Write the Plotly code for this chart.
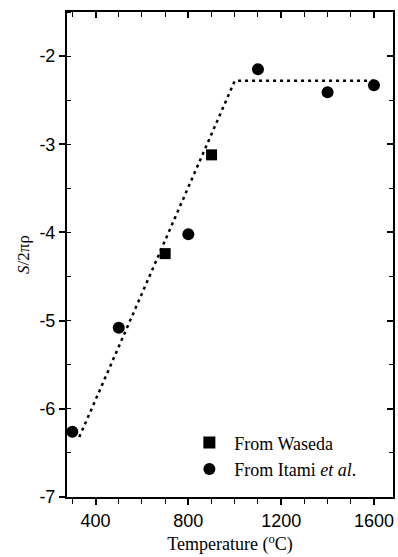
import plotly.graph_objects as go

# Data
waseda_T = [700, 900]
waseda_S = [-4.24, -3.12]
itami_T = [300, 500, 800, 1100, 1400, 1600]
itami_S = [-6.26, -5.08, -4.02, -2.15, -2.41, -2.33]
fit_T = [330, 1000, 1600]
fit_S = [-6.32, -2.28, -2.28]

x_ticks = [400, 800, 1200, 1600]
x_ticktext = ["400", "800", "1200", "1600"]
y_ticks = [-7, -6, -5, -4, -3, -2]
y_ticktext = ["-7", "-6", "-5", "-4", "-3", "-2"]

x_range = [277, 1682]
y_range = [-7, -1.5]

fig = go.Figure()
fig.add_trace(go.Scatter(x=fit_T, y=fit_S, mode="lines",
                         line=dict(color="black", width=2.5, dash="3px,4px"),
                         showlegend=False, hoverinfo="skip"))
fig.add_trace(go.Scatter(x=waseda_T, y=waseda_S, mode="markers", name="From Waseda",
                         marker=dict(symbol="square", size=11, color="black")))
fig.add_trace(go.Scatter(x=itami_T, y=itami_S, mode="markers", name="From Itami <i>et al</i>.",
                         marker=dict(symbol="circle", size=12, color="black")))
# empty trace so the mirrored top/right frame axes are drawn
fig.add_trace(go.Scatter(x=[None], y=[None], xaxis="x2", yaxis="y2", mode="markers",
                         showlegend=False, hoverinfo="skip"))

tickfont = dict(family="Liberation Sans, Arial", size=18, color="black")
serif = dict(family="Liberation Serif, Times New Roman", size=18, color="black")

common = dict(showgrid=False, zeroline=False, showline=True, linecolor="black",
              linewidth=2, tickcolor="black", tickwidth=1.5, automargin=False)

fig.update_layout(
    width=398, height=557,
    margin=dict(l=67, r=5, t=12, b=60),
    paper_bgcolor="white", plot_bgcolor="white",
    showlegend=True,
    legend=dict(x=0.36, y=0.02, xanchor="left", yanchor="bottom",
                font=serif, bgcolor="rgba(0,0,0,0)", tracegroupgap=0,
                itemwidth=40, itemsizing="constant"),
    xaxis=dict(range=x_range, ticks="outside", ticklen=6,
               tickvals=x_ticks, ticktext=x_ticktext, tickfont=tickfont,
               minor=dict(dtick=100, tick0=0, ticks="outside", ticklen=5, tickwidth=1.2, tickcolor="black"),
               title=dict(text="Temperature (<sup>o</sup>C)", font=serif, standoff=8), **common),
    yaxis=dict(range=y_range, ticks="outside", ticklen=6,
               tickvals=y_ticks, ticktext=y_ticktext, tickfont=tickfont,
               minor=dict(dtick=0.5, ticks="inside", ticklen=4, tickwidth=1.2, tickcolor="black"),
               title=dict(text="<i>S</i>/2πρ", font=dict(family="Liberation Serif, Times New Roman", size=17, color="black"), standoff=5),
               **common),
    xaxis2=dict(range=x_range, overlaying="x", side="top", ticks="inside", ticklen=6,
                tickvals=x_ticks, showticklabels=False,
                minor=dict(dtick=100, tick0=0, ticks="inside", ticklen=5, tickwidth=1.2, tickcolor="black"),
                **common),
    yaxis2=dict(range=y_range, overlaying="y", side="right", ticks="inside", ticklen=6,
                tickvals=y_ticks, showticklabels=False,
                minor=dict(dtick=0.5, ticks="inside", ticklen=4, tickwidth=1.2, tickcolor="black"),
                **common),
)

fig.write_html("out.html", config={"displayModeBar": False},
               post_script="document.body.style.margin='0';document.body.style.overflow='hidden';")
